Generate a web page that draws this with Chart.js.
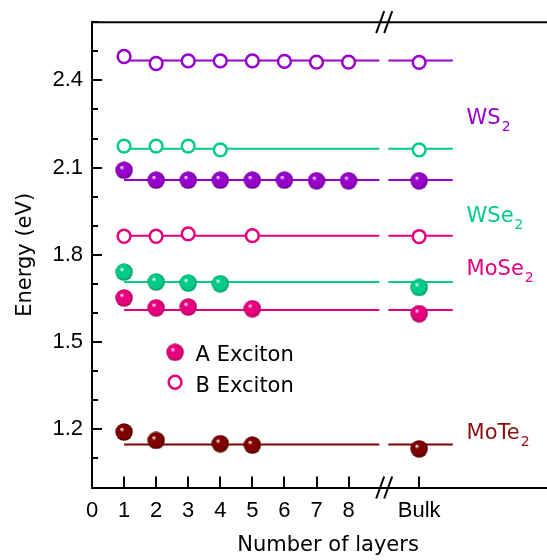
<!DOCTYPE html>
<html>
<head>
<meta charset="utf-8">
<script src="https://cdn.jsdelivr.net/npm/chart.js@4.4.0/dist/chart.umd.min.js"></script>
<style>
  html, body { margin: 0; padding: 0; overflow: hidden; background: #fff; }
  #wrap { width: 573px; height: 560px; }
</style>
</head>
<body>
<div id="wrap"><canvas id="chart"></canvas></div>
<script>
// x positions: layers 1..8, "Bulk" sits after the axis break
const layerTicks = [0, 1, 2, 3, 4, 5, 6, 7, 8];
const bulkPos = 10.2;
const breakPos = 9.11;
const yLabelVals = [1.2, 1.5, 1.8, 2.1, 2.4];

// exciton energies (eV)
const ws2Layers = [1, 2, 3, 4, 5, 6, 7, 8, 'Bulk'];
const ws2A = [2.091, 2.057, 2.057, 2.057, 2.057, 2.057, 2.055, 2.055, 2.055];
const ws2B = [2.482, 2.458, 2.467, 2.467, 2.467, 2.465, 2.463, 2.463, 2.462];

const wse2Layers = [1, 2, 3, 4, 'Bulk'];
const wse2A = [1.741, 1.707, 1.703, 1.701, 1.688];
const wse2B = [2.174, 2.174, 2.174, 2.161, 2.161];

const mose2Layers = [1, 2, 3, 5, 'Bulk'];
const mose2A = [1.652, 1.618, 1.621, 1.615, 1.598];
const mose2B = [1.864, 1.864, 1.872, 1.866, 1.863];

const mote2Layers = [1, 2, 4, 5, 'Bulk'];
const mote2A = [1.191, 1.162, 1.151, 1.146, 1.133];

// horizontal guide levels and their two segments (before / after break)
const fitNames = ['WS2 B', 'WSe2 B', 'WS2 A', 'MoSe2 B', 'WSe2 A', 'MoSe2 A', 'MoTe2 A'];
const fitLevels = [2.468, 2.165, 2.057, 1.866, 1.707, 1.610, 1.148];
const segStart = [1, 9.24];
const segEnd = [8.96, 11.25];

const PURPLE = '#9900cc', GREEN = '#00cc88', PINK = '#e6007e', MAROON = '#800000';
const fitColors = [PURPLE, GREEN, PURPLE, PINK, GREEN, PINK, MAROON];

// shaded "ball" marker for the A exciton
function ball(color, dark) {
  const c = document.createElement('canvas');
  c.width = 18; c.height = 18;
  const g = c.getContext('2d');
  const r = 8.7;
  const grad = g.createRadialGradient(9 - r * 0.3, 9 - r * 0.35, 0.3, 9, 9, r);
  grad.addColorStop(0, '#ffffff');
  grad.addColorStop(0.25, color);
  grad.addColorStop(0.75, color);
  grad.addColorStop(1, dark);
  g.fillStyle = grad;
  g.beginPath(); g.arc(9, 9, r, 0, Math.PI * 2); g.fill();
  return c;
}
const balls = {
  purple: ball(PURPLE, '#66008a'),
  green: ball(GREEN, '#00955f'),
  pink: ball(PINK, '#a80058'),
  maroon: ball(MAROON, '#4a0000')
};

const pts = (layers, vals) => layers.map((l, i) => ({x: l === 'Bulk' ? bulkPos : l, y: vals[i]}));

function filled(label, layers, vals, img) {
  return {label, data: pts(layers, vals), showLine: false, pointStyle: img, order: 1};
}
function open(label, layers, vals, color) {
  return {label, data: pts(layers, vals), showLine: false, pointStyle: 'circle',
    pointRadius: 6.4, pointBorderWidth: 2.5, borderColor: color, backgroundColor: '#fff', order: 1};
}

const fitSets = fitLevels.map((lv, i) => ({
  label: fitNames[i] + ' fit',
  data: [
    {x: segStart[0], y: lv}, {x: segEnd[0], y: lv},
    {x: (segEnd[0] + segStart[1]) / 2, y: null},
    {x: segStart[1], y: lv}, {x: segEnd[1], y: lv}
  ],
  showLine: true, spanGaps: false, borderColor: fitColors[i], borderWidth: 2,
  pointRadius: 0, order: 2
}));

const decor = {
  id: 'decor',
  afterDraw(chart) {
    const {ctx, chartArea: a, scales: {x, y}} = chart;
    ctx.save();
    ctx.strokeStyle = '#000';
    ctx.lineWidth = 2;
    // inward ticks on y
    for (let k = 10; k <= 26; k++) {
      const v = k / 10;
      const py = Math.round(y.getPixelForValue(v));
      const major = yLabelVals.some(t => Math.abs(t - v) < 1e-6);
      ctx.beginPath(); ctx.moveTo(a.left, py); ctx.lineTo(a.left + (major ? 10 : 6), py); ctx.stroke();
    }
    // inward ticks on x
    layerTicks.slice(1).concat([bulkPos]).forEach(v => {
      const px = Math.round(x.getPixelForValue(v));
      ctx.beginPath(); ctx.moveTo(px, a.bottom); ctx.lineTo(px, a.bottom - 11); ctx.stroke();
    });
    // top frame line
    ctx.beginPath(); ctx.moveTo(a.left - 1, a.top); ctx.lineTo(a.right, a.top); ctx.stroke();
    // axis break marks
    const bx = x.getPixelForValue(breakPos);
    [a.top, a.bottom].forEach(yy => {
      [-4, 4].forEach(off => {
        ctx.beginPath();
        ctx.moveTo(bx + off - 4, yy + 11);
        ctx.lineTo(bx + off + 4, yy - 11);
        ctx.stroke();
      });
    });
    // legend
    const lx = x.getPixelForValue(2.59);
    ctx.drawImage(balls.pink, lx - 9, y.getPixelForValue(1.465) - 9);
    ctx.beginPath();
    ctx.arc(lx, y.getPixelForValue(1.362), 6.4, 0, Math.PI * 2);
    ctx.fillStyle = '#fff'; ctx.fill();
    ctx.strokeStyle = PINK; ctx.lineWidth = 2.5; ctx.stroke();
    ctx.fillStyle = '#000';
    ctx.font = '21px "DejaVu Sans"';
    ctx.textBaseline = 'alphabetic';
    ctx.textAlign = 'left';
    const tx = x.getPixelForValue(3.23);
    ctx.fillText('A Exciton', tx, y.getPixelForValue(1.435));
    ctx.fillText('B Exciton', tx, y.getPixelForValue(1.330));
    // material labels with subscripts
    const lab = (main, sub, yv, color) => {
      const px = x.getPixelForValue(11.68), py = y.getPixelForValue(yv);
      ctx.fillStyle = color;
      ctx.font = '21px "DejaVu Sans"';
      ctx.fillText(main, px, py);
      const w = ctx.measureText(main).width;
      ctx.font = '14px "DejaVu Sans"';
      ctx.fillText(sub, px + w + 1, py + 7);
    };
    lab('WS', '2', 2.2515, PURPLE);
    lab('WSe', '2', 1.912, GREEN);
    lab('MoSe', '2', 1.7295, PINK);
    lab('MoTe', '2', 1.168, '#8b0f0f');
    ctx.restore();
  }
};

new Chart(document.getElementById('chart'), {
  type: 'scatter',
  data: {
    datasets: [
      filled('WS2 A', ws2Layers, ws2A, balls.purple),
      open('WS2 B', ws2Layers, ws2B, PURPLE),
      filled('WSe2 A', wse2Layers, wse2A, balls.green),
      open('WSe2 B', wse2Layers, wse2B, GREEN),
      filled('MoSe2 A', mose2Layers, mose2A, balls.pink),
      open('MoSe2 B', mose2Layers, mose2B, PINK),
      filled('MoTe2 A', mote2Layers, mote2A, balls.maroon),
      ...fitSets
    ]
  },
  options: {
    responsive: true,
    maintainAspectRatio: false,
    animation: false,
    devicePixelRatio: 1,
    layout: {padding: {top: 18, right: 0, left: 0, bottom: 0}},
    plugins: {legend: {display: false}, tooltip: {enabled: false}},
    scales: {
      x: {
        type: 'linear',
        min: 0,
        max: 14.72,
        afterBuildTicks: s => { s.ticks = layerTicks.concat([bulkPos]).map(v => ({value: v})); },
        afterFit: s => { s.height = 72.5; },
        ticks: {
          autoSkip: false, maxRotation: 0, padding: 10, color: '#000',
          font: {family: '"Liberation Sans", Arial', size: 22},
          callback: v => v === bulkPos ? 'Bulk' : String(v)
        },
        grid: {drawOnChartArea: false, drawTicks: false},
        border: {display: true, color: '#000', width: 2},
        title: {
          display: true, text: 'Number of layers', color: '#000',
          font: {family: '"DejaVu Sans"', size: 21}, padding: {top: 0, bottom: 2}
        }
      },
      y: {
        min: 1.0,
        max: 2.6,
        afterBuildTicks: s => {
          const t = [];
          for (let k = 10; k <= 26; k++) t.push({value: k / 10});
          s.ticks = t;
        },
        afterFit: s => { s.width = 92; },
        ticks: {
          autoSkip: false, padding: 9, color: '#000',
          font: {family: '"Liberation Sans", Arial', size: 22},
          callback: v => yLabelVals.some(t => Math.abs(t - v) < 1e-6) ? v.toFixed(1) : ''
        },
        grid: {drawOnChartArea: false, drawTicks: false},
        border: {display: true, color: '#000', width: 2},
        title: {
          display: true, text: 'Energy (eV)', color: '#000',
          font: {family: '"DejaVu Sans"', size: 21}, padding: {top: 13, bottom: 0}
        }
      }
    }
  },
  plugins: [decor]
});
</script>
</body>
</html>
